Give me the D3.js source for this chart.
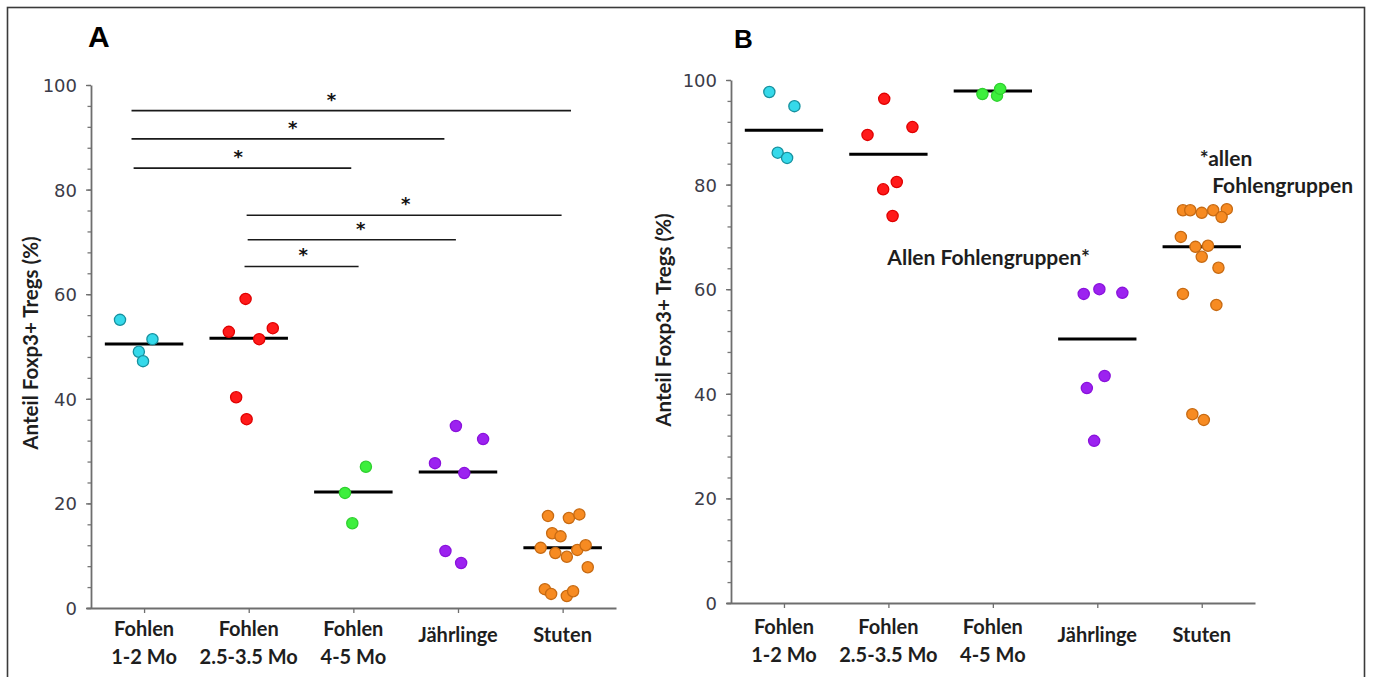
<!DOCTYPE html>
<html><head><meta charset="utf-8">
<script src="https://cdn.jsdelivr.net/npm/d3@7"></script>
<style>
html,body{margin:0;padding:0;background:#fff;}
svg{display:block;}
</style></head>
<body>
<svg id="chart" width="1373" height="677"></svg>
<script>
// ---------- DATA ----------
const categories = [["Fohlen","1-2 Mo"],["Fohlen","2.5-3.5 Mo"],["Fohlen","4-5 Mo"],["Jährlinge"],["Stuten"]];
const yTickValues = [0,20,40,60,80,100];
const yMinorValues = d3.range(0,101,4);
const yAxisLabel = "Anteil Foxp3+ Tregs (%)";

// Panel A values (%), jitter in category-step units
const aFohlen12   = [55.1, 51.4, 49.0, 47.2];
const aFohlen25   = [59.1, 52.8, 53.5, 51.4, 40.3, 36.1];
const aFohlen45   = [22.0, 16.2, 27.0];
const aJaehrlinge = [34.8, 32.3, 27.7, 25.8, 10.9, 8.6];
const aStuten     = [17.6, 17.2, 17.9, 14.3, 13.7, 11.5, 10.5, 9.8, 11.1, 12.0, 7.8, 3.6, 2.7, 2.3, 3.2];
const aJitter = [
  [-0.23, 0.08, -0.05, -0.01],
  [-0.03, -0.19, 0.23, 0.10, -0.12, -0.02],
  [-0.08, -0.01, 0.12],
  [-0.02, 0.24, -0.22, 0.06, -0.12, 0.03],
  [-0.14, 0.06, 0.16, -0.10, -0.02, -0.21, -0.07, 0.04, 0.14, 0.22, 0.24, -0.17, -0.11, 0.04, 0.10]
];
const aMedians = [50.5, 51.6, 22.2, 26.0, 11.5];
// significance brackets: [from (cat units), to (cat units), value, star position (cat units)]
const aBrackets = [
  [-0.12, 4.08, 95.1, 1.79],
  [-0.12, 2.87, 89.7, 1.42],
  [-0.10, 1.98, 84.1, 0.90],
  [ 0.98, 3.99, 75.1, 2.50],
  [ 0.99, 2.98, 70.4, 2.07],
  [ 0.96, 2.05, 65.3, 1.52]
];

// Panel B values (%)
const bFohlen12   = [97.7, 95.0, 86.1, 85.1];
const bFohlen25   = [96.4, 89.5, 91.0, 79.1, 80.5, 74.0];
const bFohlen45   = [97.3, 97.0, 98.3];
const bJaehrlinge = [59.1, 60.0, 59.3, 43.4, 41.1, 31.0];
const bStuten     = [75.1, 75.1, 74.6, 75.1, 75.3, 73.8, 70.0, 68.1, 68.3, 66.2, 64.1, 59.1, 57.0, 36.1, 35.0];
const bJitter = [
  [-0.14, 0.10, -0.06, 0.03],
  [-0.04, -0.20, 0.23, -0.05, 0.08, 0.04],
  [-0.10, 0.04, 0.07],
  [-0.13, 0.02, 0.24, 0.07, -0.10, -0.03],
  [-0.18, -0.11, 0.00, 0.11, 0.24, 0.19, -0.20, -0.06, 0.06, 0.00, 0.16, -0.18, 0.14, -0.09, 0.02]
];
const bMedians = [90.4, 85.8, 97.9, 50.5, 68.1];
const bNotes = ["Allen Fohlengruppen*", "*allen", "Fohlengruppen"];

// ---------- STYLE ----------
const fills   = ["#35d9ea", "#ff1a1a", "#3def3d", "#9c22f0", "#f78b22"];
const strokes = ["#17919f", "#e00000", "#2fd02f", "#8a12dc", "#c76a12"];
const labelFont = "Lato, 'Open Sans', sans-serif";
const tickFont  = "'DejaVu Sans', sans-serif";

const svg = d3.select("#chart");
svg.append("rect").attr("x",7.5).attr("y",7.5).attr("width",1357).attr("height",720)
  .attr("fill","#fff").attr("stroke","#3a3a3a").attr("stroke-width",1.6);

function panel(opt){
  const g = svg.append("g");
  const x = d3.scaleLinear().domain([-0.555, 4.51]).range([opt.x0, opt.x1]);
  const y = d3.scaleLinear().domain([0,100]).range([opt.yBottom, opt.yTop]);

  // minor y ticks
  const minor = g.append("g").attr("transform",`translate(${opt.x0+5},0)`)
    .call(d3.axisLeft(y).tickValues(yMinorValues).tickSize(3.5).tickFormat("").tickSizeOuter(0));
  minor.select(".domain").remove();
  minor.selectAll("line").attr("stroke","#777").attr("stroke-width",1.3);

  const ya = g.append("g").attr("transform",`translate(${opt.x0+5},0)`)
    .call(d3.axisLeft(y).tickValues(yTickValues).tickSize(5).tickSizeOuter(0).tickPadding(9));
  ya.select(".domain").attr("stroke","#6e6e6e").attr("stroke-width",1.8);
  ya.selectAll("line").attr("stroke","#6e6e6e").attr("stroke-width",1.3);
  ya.selectAll("text").attr("font-family",tickFont).attr("font-size",18)
    .attr("fill","#3b3b48").attr("dy","0.36em");

  const xa = g.append("g").attr("transform",`translate(0,${opt.yBottom})`)
    .call(d3.axisBottom(x).tickValues(d3.range(categories.length)).tickSize(5).tickSizeOuter(0).tickFormat(""));
  xa.select(".domain").attr("stroke","#6e6e6e").attr("stroke-width",1.8);
  xa.selectAll("line").attr("stroke","#6e6e6e").attr("stroke-width",1.3);

  // category labels
  categories.forEach((c,i)=>{
    const t = g.append("text").attr("x",x(i)).attr("text-anchor","middle")
      .attr("font-family",labelFont).attr("font-weight",700).attr("font-size",20).attr("fill","#1e1e1e");
    if(c.length===2){
      t.attr("y",opt.yBottom+opt.lab2);
      t.append("tspan").attr("x",x(i)).text(c[0]);
      t.append("tspan").attr("x",x(i)).attr("dy",27.5).text(c[1]);
    } else {
      t.attr("y",opt.yBottom+opt.lab1).text(c[0]);
    }
  });

  // y label
  g.append("text").attr("transform",`translate(${opt.ylabX},${opt.ylabY}) rotate(-90)`)
    .attr("text-anchor","middle").attr("font-family",labelFont).attr("font-weight",700)
    .attr("font-size",20.5).attr("fill","#1e1e1e").text(yAxisLabel);

  // panel letter
  g.append("text").attr("x",opt.letterX).attr("y",opt.letterY)
    .attr("font-family","'Liberation Sans', Arial, sans-serif").attr("font-weight",700)
    .attr("font-size",opt.letterSize).attr("fill","#000").text(opt.letter);

  // medians
  g.selectAll("line.med").data(opt.medians).join("line").attr("class","med")
    .attr("x1",(d,i)=>x(i-0.375)).attr("x2",(d,i)=>x(i+0.375))
    .attr("y1",d=>y(d)).attr("y2",d=>y(d))
    .attr("stroke","#000").attr("stroke-width",3);

  // dots
  opt.groups.forEach((vals,i)=>{
    g.selectAll(null).data(vals).join("circle")
      .attr("cx",(d,j)=>x(i+opt.jitter[i][j])).attr("cy",d=>y(d)).attr("r",5.6)
      .attr("fill",fills[i]).attr("stroke",strokes[i]).attr("stroke-width",1.3);
  });
  return {g,x,y};
}

// Panel A
const A = panel({x0:86, x1:616, yTop:85, yBottom:608, groups:[aFohlen12,aFohlen25,aFohlen45,aJaehrlinge,aStuten],
  jitter:aJitter, medians:aMedians, lab2:28, lab1:34, ylabX:38, ylabY:343,
  letter:"A", letterX:88, letterY:47, letterSize:30});
A.g.selectAll("line.br").data(aBrackets).join("line").attr("class","br")
  .attr("x1",d=>A.x(d[0])).attr("x2",d=>A.x(d[1])).attr("y1",d=>A.y(d[2])).attr("y2",d=>A.y(d[2]))
  .attr("stroke","#1a1a1a").attr("stroke-width",1.6);
A.g.selectAll("text.star").data(aBrackets).join("text").attr("class","star")
  .attr("x",d=>A.x(d[3])).attr("y",d=>A.y(d[2])-5).attr("text-anchor","middle")
  .attr("font-family","'DejaVu Sans', sans-serif").attr("font-weight",700).attr("font-size",18).attr("fill","#111").text("*");

// Panel B
const B = panel({x0:726, x1:1255, yTop:80, yBottom:603, groups:[bFohlen12,bFohlen25,bFohlen45,bJaehrlinge,bStuten],
  jitter:bJitter, medians:bMedians, lab2:31, lab1:39, ylabX:671, ylabY:320,
  letter:"B", letterX:734, letterY:48, letterSize:26});
const noteStyle = s => s.attr("font-family",labelFont).attr("font-weight",700).attr("font-size",21).attr("fill","#1e1e1e");
B.g.append("text").attr("x",B.x(0.99)).attr("y",B.y(64.6)).text(bNotes[0]).call(noteStyle);
B.g.append("text").attr("x",B.x(3.98)).attr("y",B.y(83.6)).text(bNotes[1]).call(noteStyle);
B.g.append("text").attr("x",B.x(4.10)).attr("y",B.y(78.3)).text(bNotes[2]).call(noteStyle);
</script>
</body></html>
